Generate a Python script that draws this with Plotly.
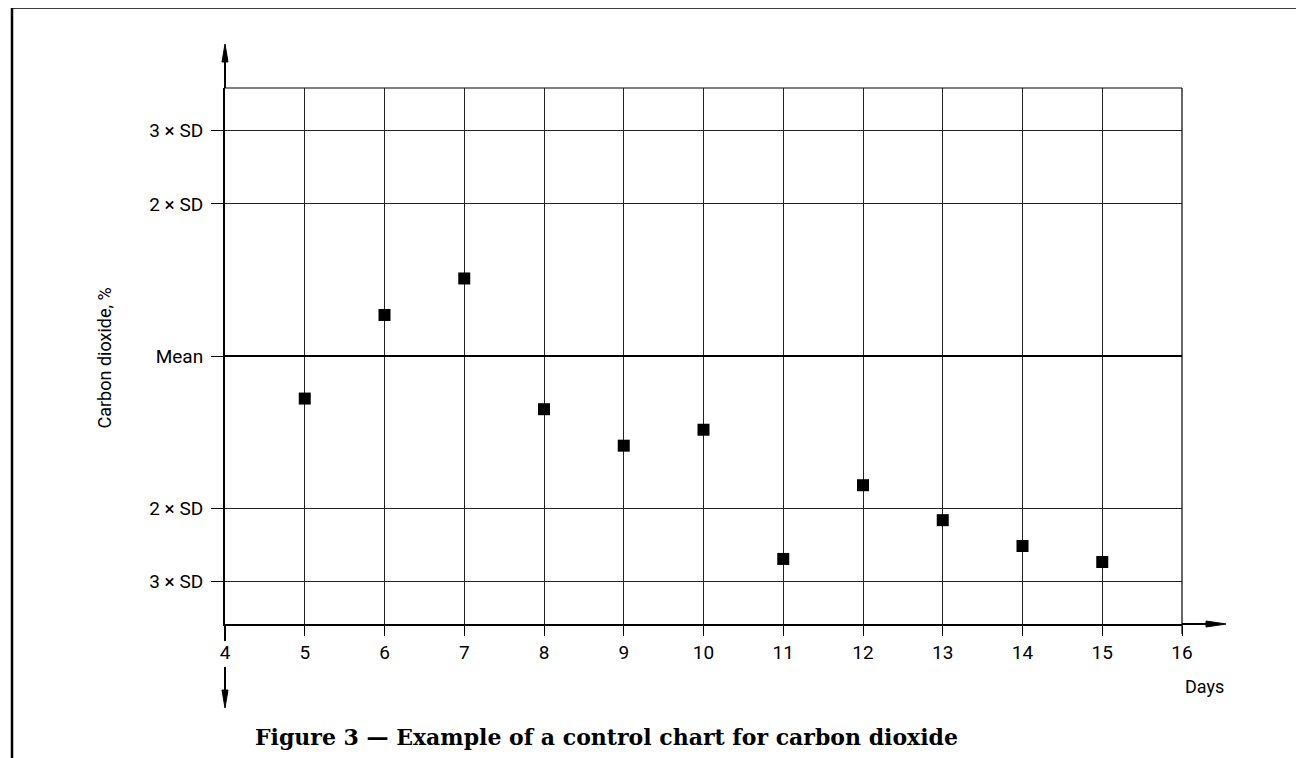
import plotly.graph_objects as go

# data (y in SD units around the mean)
days = [5, 6, 7, 8, 9, 10, 11, 12, 13, 14, 15]
co2_sd = [-0.56, 0.54, 1.02, -0.70, -1.18, -0.97, -2.67, -1.70, -2.16, -2.50, -2.71]

x_ticks = list(range(4, 17))
y_levels = [2.97, 2, 0, -2, -2.97]
y_labels = ["3 × SD", "2 × SD", "Mean", "2 × SD", "3 × SD"]

# the page body adds an 8px margin, so work in screen pixels minus that
OFF = 8
FW, FH = 1304 - OFF, 758 - OFF
L, R, T, B = 225 - OFF, 1182 - OFF, 88 - OFF, 624 - OFF
W, H = R - L, B - T


def px(x):
    return (x - OFF - L) / W


def py(y):
    return (B - (y - OFF)) / H


def line(x0, y0, x1, y1, w=2):
    return dict(type="line", xref="paper", yref="paper",
                x0=px(x0), y0=py(y0), x1=px(x1), y1=py(y1),
                line=dict(color="black", width=w))


def tri(pts):
    d = "M " + " L ".join(f"{px(a)},{py(b)}" for a, b in pts) + " Z"
    return dict(type="path", xref="paper", yref="paper", path=d,
                fillcolor="black", line=dict(color="black", width=1))


fig = go.Figure()
fig.add_trace(go.Scatter(
    x=days, y=co2_sd, mode="markers", showlegend=False,
    marker=dict(symbol="square", size=12, color="black"),
    cliponaxis=False,
))

# coordinates below are screen pixels
shapes = [
    # mean line, heavier
    dict(type="line", xref="paper", yref="y", x0=0, x1=1, y0=0, y1=0,
         line=dict(color="black", width=2)),
    # top and right border of the grid
    line(225, 88, 1182, 88, 1.2),
    line(1182, 88, 1182, 634, 1.2),
    # y axis extensions with arrows
    line(225, 88, 225, 58),
    tri([(225, 44), (222, 62), (228, 62)]),
    line(225, 624, 225, 641),
    line(225, 667, 225, 694),
    tri([(225, 708), (222, 690), (228, 690)]),
    # x axis extension with arrow
    line(1182, 624, 1210, 624),
    tri([(1226, 624), (1206, 621), (1206, 627)]),
    # page frame
    line(12, 7.5, 1304, 7.5, 2.5),
    line(12, 7.5, 12, 758, 2.5),
]

annotations = [
    dict(text="Carbon dioxide, %", xref="paper", yref="paper",
         x=px(91), y=py(358), textangle=-90, showarrow=False,
         font=dict(family="Roboto", size=18, color="black")),
    dict(text="Days", xref="paper", yref="paper", x=px(1226), y=py(686),
         xanchor="right", yanchor="middle", showarrow=False,
         font=dict(family="Roboto", size=18, color="black")),
    dict(text="<b>Figure 3 — Example of a control chart for carbon dioxide</b>",
         xref="paper", yref="paper", x=px(606), y=py(737),
         xanchor="center", yanchor="middle", showarrow=False,
         font=dict(family="DejaVu Serif", size=22, color="black")),
]

fig.update_layout(
    width=FW, height=FH, autosize=False,
    margin=dict(l=L, r=FW - R, t=T, b=FH - B),
    paper_bgcolor="white", plot_bgcolor="white",
    font=dict(family="Roboto", size=19, color="black"),
    shapes=shapes, annotations=annotations,
    xaxis=dict(range=[4, 16], tickvals=x_ticks, showgrid=True,
               gridcolor="#222", gridwidth=1, zeroline=False,
               showline=True, linecolor="black", linewidth=2,
               ticks="outside", ticklen=10, tickwidth=1.2, tickcolor="black"),
    yaxis=dict(range=[-3.526, 3.526], tickvals=y_levels, ticktext=y_labels,
               showgrid=True, gridcolor="#222", gridwidth=1, zeroline=False,
               showline=True, linecolor="black", linewidth=2,
               ticks="outside", ticklen=12, tickwidth=1.2, tickcolor="black",
               ticklabelstandoff=4),
)

fig.write_html("out.html")
